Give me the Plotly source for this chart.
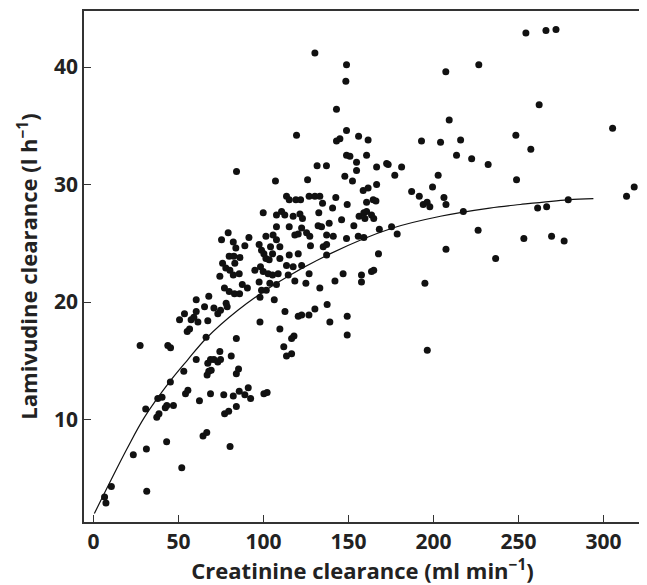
import plotly.graph_objects as go

# Creatinine clearance (ml/min) and lamivudine clearance (l/h)
crcl = [6.5, 7.3, 10.5, 31.3, 23.4, 31.1, 43.0, 51.9, 30.7, 37.2, 38.5, 42.2, 43.1, 47.0, 37.8, 40.3,
        45.2, 53.1, 54.1, 55.5, 62.3, 64.4, 66.6, 68.8, 76.6, 77.1, 79.5, 80.3, 82.2, 84.0, 27.4, 43.7,
        45.3, 60.4, 66.2, 55.1, 56.5, 50.6, 53.5, 57.4, 59.0, 60.4, 61.4, 60.4, 65.3, 67.8, 67.2, 70.8,
        73.1, 74.7, 77.0, 78.0, 78.6, 79.8, 82.9, 85.9, 67.2, 68.8, 66.8, 67.8, 69.2, 70.8, 73.1, 74.7,
        74.3, 81.0, 84.0, 84.0, 85.3, 85.7, 89.0, 91.0, 92.4, 100.2, 102.1,
        84.1, 99.8, 79.2, 75.3, 82.2, 91.4, 101.4, 83.7, 89.0, 97.4, 98.8, 100.2, 101.4, 79.8, 82.5, 86.1,
        75.9, 83.1, 77.8, 80.2, 74.3, 82.2, 85.7, 94.9, 98.2, 102.7, 97.4, 87.5, 90.5, 98.8, 101.6, 97.9,
        103.7, 107.6, 118.4, 124.9, 133.1, 142.0, 106.3,
        142.9, 119.4, 148.8, 142.9, 144.9, 155.9, 148.8, 150.8, 154.7, 154.7, 147.8, 152.3, 107.0, 125.9,
        131.5, 137.0, 113.5, 115.1, 119.0, 121.8, 126.8, 130.2, 133.1, 142.5, 134.7, 149.2, 107.6, 110.6,
        112.5, 117.4, 121.4, 122.9, 132.5, 140.6, 132.1, 134.1, 138.6, 145.9, 153.1, 107.6, 115.1, 122.4,
        125.3, 127.2, 118.4, 120.4, 137.1, 141.0, 148.8, 155.7, 127.6, 135.1, 137.1, 120.4, 115.1, 105.6,
        107.6, 104.1, 109.6, 105.3, 109.6, 103.3, 99.8, 105.3, 108.6, 113.5, 117.4, 122.4, 126.8, 114.5,
        146.8, 137.1,
        97.9, 112.6, 109.6, 120.4, 122.4, 126.7, 130.2, 137.4, 139.0, 149.2, 149.2, 116.5, 117.9, 111.9,
        113.5, 116.5,
        209.2, 192.9, 204.1, 215.9, 213.5, 222.4, 232.1, 161.5, 160.6, 166.5, 172.4, 173.3, 181.2, 177.2,
        166.5, 158.6, 161.5, 160.6, 164.5, 166.1, 156.2, 159.0, 160.6, 159.6, 163.5, 164.8, 159.0, 168.1,
        175.3, 178.6, 187.1, 191.6, 199.4, 202.7, 193.9, 196.2, 197.8, 206.1, 207.3, 217.5, 226.2, 207.3,
        167.6, 157.6, 157.6, 163.5, 164.8, 194.9, 196.3,
        254.3, 266.1, 272.0, 226.6, 262.1, 305.3, 248.4, 257.2, 248.8, 318.0, 313.5, 261.2, 266.5, 279.2,
        253.1, 269.4, 276.8, 236.5, 130.2, 148.8, 148.4, 207.2]
lam_cl = [3.4, 2.9, 4.3, 3.9, 7.0, 7.5, 8.1, 5.9, 10.9, 10.2, 10.5, 11.0, 11.2, 11.2, 11.8, 11.9,
          13.2, 14.1, 12.2, 12.5, 11.6, 8.6, 8.9, 12.2, 12.1, 10.5, 10.7, 7.7, 12.0, 11.1, 16.3, 16.3,
          16.1, 15.1, 17.0, 17.5, 17.7, 18.5, 19.0, 18.5, 18.7, 19.2, 18.3, 20.2, 19.6, 20.5, 18.4, 19.5,
          19.0, 19.3, 21.2, 19.9, 19.6, 20.9, 20.7, 20.7, 14.8, 15.1, 13.8, 14.1, 14.2, 15.1, 14.9, 15.1,
          15.8, 15.4, 16.9, 13.9, 14.3, 12.4, 12.1, 12.7, 11.8, 12.2, 12.3,
          31.1, 27.6, 25.9, 25.3, 25.1, 25.5, 25.6, 24.6, 24.8, 24.9, 24.4, 24.1, 23.7, 23.9, 23.9, 23.8,
          23.3, 23.3, 22.9, 22.7, 22.2, 22.3, 22.4, 22.7, 23.0, 22.4, 21.7, 21.5, 21.2, 21.0, 21.0, 20.4,
          21.6, 21.5, 21.8, 21.6, 21.2, 21.8, 20.2,
          36.4, 34.2, 34.6, 33.7, 33.9, 34.1, 32.5, 32.4, 31.9, 31.2, 30.7, 30.3, 30.3, 30.4,
          31.6, 31.6, 29.0, 28.7, 28.7, 28.7, 29.0, 29.0, 29.0, 28.9, 28.4, 28.3, 27.4, 27.7,
          27.4, 27.3, 27.5, 27.1, 27.6, 28.0, 26.5, 26.4, 26.7, 27.0, 26.5, 26.4, 26.4, 26.3,
          25.9, 25.6, 25.7, 25.8, 25.7, 25.6, 25.4, 25.6, 24.8, 24.7, 24.9, 24.1, 24.0, 25.7,
          25.3, 24.7, 24.7, 24.1, 23.7, 23.6, 22.6, 22.3, 22.4, 23.1, 23.0, 23.1, 22.4, 22.3,
          22.4, 24.0,
          18.3, 19.2, 17.7, 18.8, 18.9, 18.9, 19.4, 19.8, 18.3, 18.8, 17.2, 16.9, 17.1, 16.2,
          15.4, 15.6,
          35.5, 33.7, 33.6, 33.8, 32.5, 32.2, 31.7, 33.8, 32.5, 31.5, 31.8, 31.7, 31.5, 30.8,
          30.0, 29.5, 29.7, 28.5, 28.7, 28.6, 27.3, 27.6, 27.7, 27.1, 27.4, 27.1, 25.5, 26.2,
          26.4, 25.8, 29.4, 29.0, 29.8, 30.8, 28.3, 28.5, 28.1, 28.9, 28.3, 27.7, 26.1, 24.5,
          24.1, 22.3, 21.7, 22.6, 22.7, 21.6, 15.9,
          42.9, 43.1, 43.2, 40.2, 36.8, 34.8, 34.2, 33.0, 30.4, 29.8, 29.0, 28.0, 28.1, 28.7,
          25.4, 25.6, 25.2, 23.7, 41.2, 40.2, 38.8, 39.6]

# fitted curve, points
fit_x = [0.5, 9.4, 20.0, 30.0, 44.7, 55.5, 66.2, 84.9, 107.6, 139.0, 176.0, 204.0, 233.0, 251.0, 279.0, 294.0]
fit_y = [2.0, 4.6, 7.6, 10.2, 13.2, 15.1, 16.9, 19.3, 21.6, 24.1, 26.3, 27.3, 28.0, 28.3, 28.7, 28.8]

x_ticks = [0, 50, 100, 150, 200, 250, 300]
y_ticks = [10, 20, 30, 40]

FONT = "Open Sans"

fig = go.Figure()
fig.add_trace(go.Scatter(x=crcl, y=lam_cl, mode="markers",
                         marker=dict(symbol="circle", size=7, color="#111111", line=dict(width=0)),
                         showlegend=False, hoverinfo="x+y"))
fig.add_trace(go.Scatter(x=fit_x, y=fit_y, mode="lines",
                         line=dict(color="#111111", width=1.2, shape="spline", smoothing=1.0),
                         showlegend=False, hoverinfo="skip"))

axis_common = dict(showgrid=False, zeroline=False, showline=True, linecolor="#333333", linewidth=1.5,
                   ticks="inside", ticklen=7, tickwidth=1.2, tickcolor="#333333", mirror=True,
                   tickfont=dict(family=FONT, size=21, color="#222222", weight="bold"))

# the html page body has an 8px default margin, so the figure is 8px smaller than the window
fig.update_layout(
    width=639, height=577,
    margin=dict(l=76, r=6, t=3, b=63),
    plot_bgcolor="white", paper_bgcolor="white",
    xaxis=dict(range=[-5.6, 322], tickvals=x_ticks, ticktext=[str(v) for v in x_ticks],
               title=dict(text="Creatinine clearance (ml min<sup>−1</sup>)", standoff=6,
                          font=dict(family=FONT, size=22, color="#222222", weight="bold")),
               automargin=False, **axis_common),
    yaxis=dict(range=[1.28, 44.77], tickvals=y_ticks, ticktext=[str(v) for v in y_ticks],
               ticklabelstandoff=0,
               title=dict(text="Lamivudine clearance (l h<sup>−1</sup>)", standoff=10,
                          font=dict(family=FONT, size=22, color="#222222", weight="bold")),
               automargin=False, **axis_common),
)

fig.write_html("out.html")
